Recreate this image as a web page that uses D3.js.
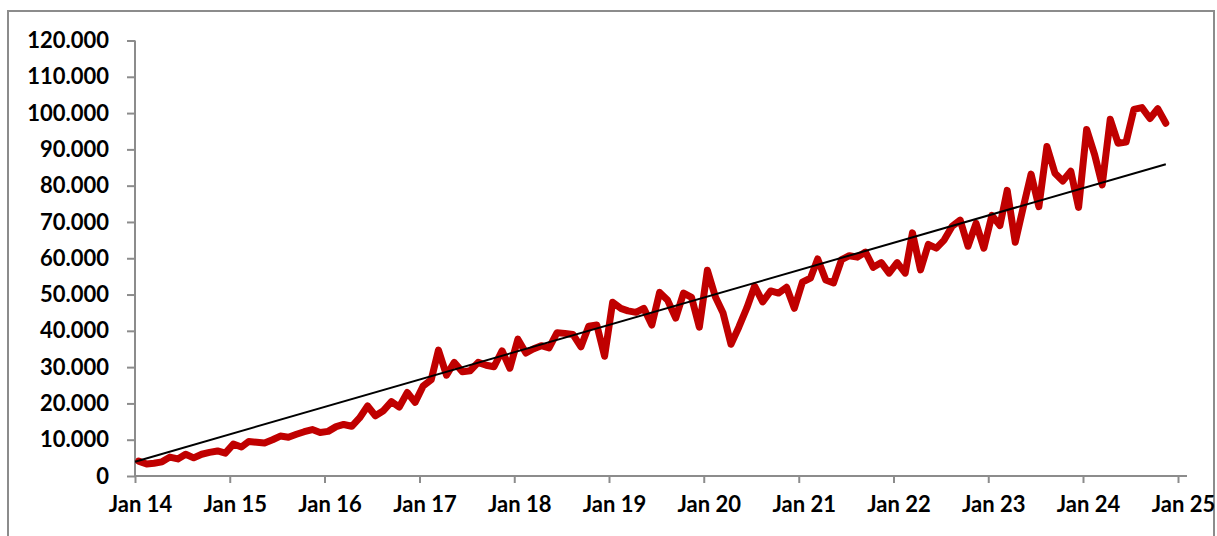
<!DOCTYPE html>
<html>
<head>
<meta charset="utf-8">
<script src="https://cdn.jsdelivr.net/npm/d3@7/dist/d3.min.js"></script>
<style>
  html, body { margin: 0; padding: 0; background: #ffffff; }
  svg { display: block; }
  text { font-family: Lato, "Open Sans", sans-serif; font-weight: bold; fill: #000; }
</style>
</head>
<body>
<svg id="chart" width="1217" height="536"></svg>
<script>
// ---- data ----
const startMonth = "2014-01-15";
const values = [
  4100, 3300, 3500, 3900, 5200, 4700, 6000, 5000, 6000, 6500, 6900, 6300,
  8800, 8000, 9500, 9300, 9100, 10000, 11000, 10700, 11500, 12200, 12800, 12000,
  12300, 13600, 14200, 13700, 16000, 19300, 16600, 18000, 20500, 19000, 23000, 20300,
  24800, 26500, 34700, 27800, 31300, 28700, 29000, 31300, 30500, 30100, 34500, 29700,
  37700, 33900, 35000, 35900, 35300, 39500, 39300, 39000, 35600, 41300, 41600, 33000,
  47900, 46200, 45500, 45100, 46200, 41600, 50600, 48400, 43500, 50400, 49200, 41000,
  56700, 49300, 45000, 36300, 41000, 46300, 52300, 48000, 51000, 50400, 52000, 46200,
  53400, 54500, 59800, 54000, 53200, 59600, 60700, 60300, 61700, 57500, 58800, 55900,
  58800, 55900, 67000, 56800, 63800, 62800, 65000, 68800, 70500, 63300, 69600, 62800,
  71800, 69000, 78700, 64400, 73800, 83200, 74200, 90800, 83400, 81300, 84000, 74000,
  95500, 88500, 80200, 98300, 91700, 92000, 101000, 101500, 98500, 101200, 97200
];
const trendDates = ["2014-01-01", "2024-11-15"];
const trendValues = [3950, 85900];
const yTicks = [0, 10000, 20000, 30000, 40000, 50000, 60000, 70000, 80000, 90000, 100000, 110000, 120000];
const xTickDates = ["2014-01-01","2015-01-01","2016-01-01","2017-01-01","2018-01-01","2019-01-01",
                    "2020-01-01","2021-01-01","2022-01-01","2023-01-01","2024-01-01","2025-01-01"];
const xTickLabels = ["Jan 14","Jan 15","Jan 16","Jan 17","Jan 18","Jan 19","Jan 20","Jan 21","Jan 22","Jan 23","Jan 24","Jan 25"];

// ---- build ----
const parse = d3.utcParse("%Y-%m-%d");
const start = parse(startMonth);
const series = values.map((v, i) => ({ date: d3.utcMonth.offset(start, i), value: v }));
const trend = trendDates.map((d, i) => ({ date: parse(d), value: trendValues[i] }));

const svg = d3.select("#chart");

// outer border
svg.append("rect")
  .attr("x", 8).attr("y", 11).attr("width", 1206).attr("height", 600)
  .attr("fill", "none").attr("stroke", "#8c8c8c").attr("stroke-width", 2);

const x = d3.scaleUtc().domain([parse("2014-01-01"), parse("2025-01-01")]).range([135, 1178]);
const y = d3.scaleLinear().domain([0, 120000]).range([476, 40.5]);

const axisColor = "#8c8c8c";
const fmt = v => v === 0 ? "0" : d3.format(",")(v).replace(/,/g, ".");

// y axis
const yAxis = svg.append("g").attr("transform", "translate(135,0)")
  .call(d3.axisLeft(y).tickValues(yTicks).tickSize(8).tickFormat(fmt).tickPadding(18));
yAxis.select(".domain").attr("stroke", axisColor).attr("stroke-width", 2).attr("d", "M0,40.5V476");
yAxis.selectAll(".tick line").attr("stroke", axisColor).attr("stroke-width", 2);
yAxis.selectAll(".tick text").attr("font-family", "Lato, sans-serif").attr("font-weight", "bold")
  .attr("font-size", 22).attr("fill", "#000");

// x axis
const xAxis = svg.append("g").attr("transform", "translate(0,476)")
  .call(d3.axisBottom(x).tickValues(xTickDates.map(parse)).tickSize(7)
    .tickFormat((d, i) => xTickLabels[i]).tickPadding(13));
xAxis.select(".domain").attr("stroke", axisColor).attr("stroke-width", 2).attr("d", "M135,0H1187");
xAxis.selectAll(".tick line").attr("stroke", axisColor).attr("stroke-width", 2);
xAxis.selectAll(".tick text").attr("font-family", "Lato, sans-serif").attr("font-weight", "bold")
  .attr("font-size", 22).attr("fill", "#000").attr("dx", 5);

// data line
const line = d3.line().x(d => x(d.date)).y(d => y(d.value));
svg.append("path").datum(series)
  .attr("d", line)
  .attr("fill", "none").attr("stroke", "#c00000").attr("stroke-width", 7)
  .attr("stroke-linejoin", "round").attr("stroke-linecap", "round");

// trend line
svg.append("path").datum(trend)
  .attr("d", line)
  .attr("fill", "none").attr("stroke", "#000").attr("stroke-width", 2);
</script>
</body>
</html>
